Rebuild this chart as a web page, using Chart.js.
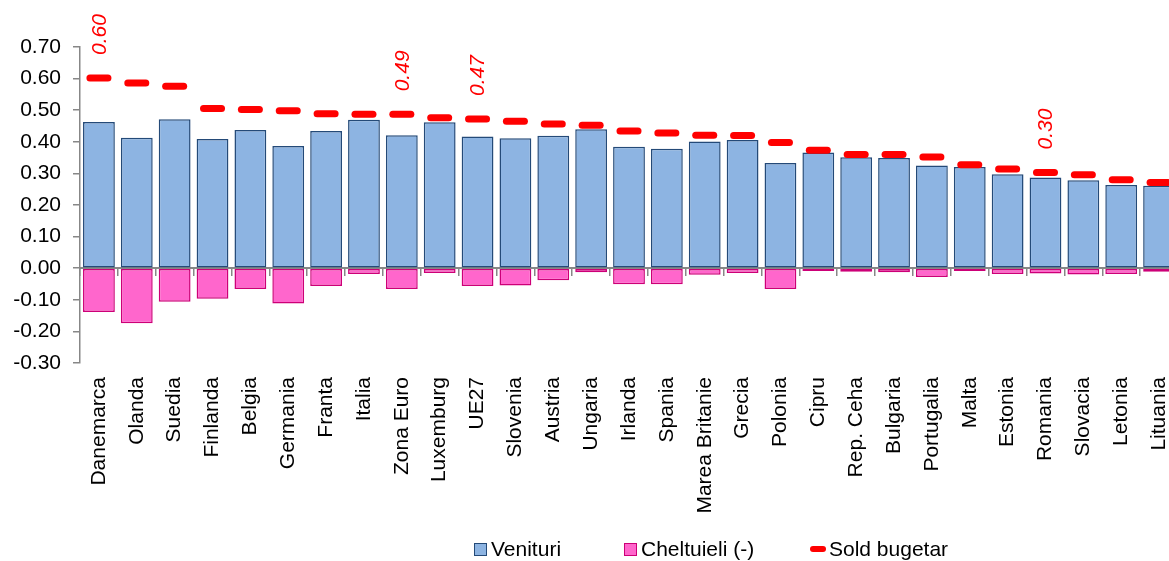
<!DOCTYPE html>
<html>
<head>
<meta charset="utf-8">
<script src="https://cdn.jsdelivr.net/npm/chart.js@4/dist/chart.umd.min.js"></script>
<style>
  html, body { margin: 0; padding: 0; width: 1169px; height: 561px; overflow: hidden; background: #fff; }
  #wrap { position: relative; width: 1169px; height: 561px; overflow: hidden; }
  #c { position: absolute; left: 0; top: 0; }
  #legend { position: absolute; top: 538px; left: 0; width: 1169px; height: 22px;
            font-family: 'Liberation Sans', Arial, sans-serif; font-size: 21px; color: #000; }
  .item { position: absolute; top: 0; display: flex; align-items: center; height: 22px; white-space: nowrap; }
  .box { width: 11px; height: 11px; margin-right: 4px; border: 1px solid; }
  .dash { width: 16px; height: 6px; border-radius: 3px; background: #ff0000; margin-right: 3px; }
</style>
</head>
<body>
<div id="wrap">
  <canvas id="c" width="1194" height="561" style="width:1194px;height:561px"></canvas>
  <div id="legend">
    <div class="item" style="left:474px"><span class="box" style="background:#8DB4E2;border-color:#244A78"></span>Venituri</div>
    <div class="item" style="left:624px"><span class="box" style="background:#FF66CC;border-color:#CC0077"></span>Cheltuieli (-)</div>
    <div class="item" style="left:810px"><span class="dash"></span>Sold bugetar</div>
  </div>
</div>
<script>
// Categories (countries and aggregates), sorted by budget balance contribution
const categories = ['Danemarca', 'Olanda', 'Suedia', 'Finlanda', 'Belgia', 'Germania', 'Franta', 'Italia',
  'Zona Euro', 'Luxemburg', 'UE27', 'Slovenia', 'Austria', 'Ungaria', 'Irlanda', 'Spania',
  'Marea Britanie', 'Grecia', 'Polonia', 'Cipru', 'Rep. Ceha', 'Bulgaria', 'Portugalia', 'Malta',
  'Estonia', 'Romania', 'Slovacia', 'Letonia', 'Lituania'];

// Revenue contribution
const venituri = [0.463, 0.413, 0.471, 0.409, 0.437, 0.387, 0.434, 0.470,
  0.421, 0.462, 0.417, 0.411, 0.419, 0.440, 0.384, 0.378,
  0.401, 0.406, 0.333, 0.366, 0.351, 0.349, 0.325, 0.320,
  0.297, 0.287, 0.278, 0.263, 0.261];

// Expenditure contribution (negative)
const cheltuieli = [-0.139, -0.174, -0.106, -0.097, -0.066, -0.112, -0.056, -0.018,
  -0.066, -0.015, -0.056, -0.055, -0.038, -0.013, -0.051, -0.051,
  -0.021, -0.015, -0.066, -0.009, -0.011, -0.013, -0.028, -0.009,
  -0.018, -0.017, -0.020, -0.018, -0.011];

// Budget balance
const soldBugetar = [0.602, 0.586, 0.576, 0.505, 0.502, 0.498, 0.489, 0.487,
  0.487, 0.476, 0.472, 0.465, 0.456, 0.452, 0.434, 0.428,
  0.421, 0.420, 0.398, 0.373, 0.360, 0.360, 0.352, 0.327,
  0.314, 0.303, 0.296, 0.280, 0.271];

// Categories whose balance value is written above the marker
const labelledCategories = ['Danemarca', 'Zona Euro', 'UE27', 'Romania'];

// Value axis ticks
const yTicks = [-0.30, -0.20, -0.10, 0.00, 0.10, 0.20, 0.30, 0.40, 0.50, 0.60, 0.70];

const FONT = "'Liberation Sans', Arial, sans-serif";
const AXIS_GRAY = '#878787';

// Rounded caps for the balance dashes
const roundCaps = {
  id: 'roundCaps',
  beforeDatasetDraw(chart, args) {
    if (chart.data.datasets[args.index].type === 'line') chart.ctx.lineCap = 'round';
  },
  afterDatasetDraw(chart) { chart.ctx.lineCap = 'butt'; }
};

// Italic red value labels above selected balance markers
const soldLabels = {
  id: 'soldLabels',
  afterDatasetsDraw(chart) {
    const idx = chart.data.datasets.findIndex(d => d.type === 'line');
    const meta = chart.getDatasetMeta(idx);
    const ctx = chart.ctx;
    ctx.save();
    ctx.fillStyle = '#ff0000';
    ctx.font = 'italic 21px ' + FONT;
    ctx.textAlign = 'left';
    ctx.textBaseline = 'middle';
    labelledCategories.forEach(name => {
      const i = categories.indexOf(name);
      const pt = meta.data[i];
      ctx.save();
      ctx.translate(pt.x + 1, pt.y - 23);
      ctx.rotate(-Math.PI / 2);
      ctx.fillText(soldBugetar[i].toFixed(2), 0, 0);
      ctx.restore();
    });
    ctx.restore();
  }
};

new Chart(document.getElementById('c'), {
  data: {
    labels: categories,
    datasets: [
      {
        type: 'line',
        label: 'Sold bugetar',
        data: soldBugetar,
        stack: 'sold',
        order: 0,
        showLine: false,
        pointStyle: 'line',
        pointRadius: 9,
        pointHoverRadius: 9,
        pointBorderWidth: 7,
        pointHoverBorderWidth: 7,
        borderColor: '#ff0000',
        backgroundColor: '#ff0000'
      },
      {
        type: 'bar',
        label: 'Venituri',
        data: venituri,
        stack: 'vc',
        order: 1,
        backgroundColor: '#8DB4E2',
        borderColor: '#244A78',
        borderWidth: 1.5,
        borderSkipped: false,
        barPercentage: 0.84,
        categoryPercentage: 1
      },
      {
        type: 'bar',
        label: 'Cheltuieli (-)',
        data: cheltuieli,
        stack: 'vc',
        order: 1,
        backgroundColor: '#FF66CC',
        borderColor: '#CC0077',
        borderWidth: 1.5,
        borderSkipped: false,
        barPercentage: 0.84,
        categoryPercentage: 1
      }
    ]
  },
  options: {
    responsive: false,
    animation: false,
    devicePixelRatio: 1,
    layout: { padding: { top: 47, left: 0, right: 4, bottom: 0 } },
    plugins: { legend: { display: false }, tooltip: { enabled: false } },
    scales: {
      x: {
        type: 'category',
        stacked: true,
        offset: true,
        position: 'bottom',
        grid: { display: false, drawTicks: false },
        border: { display: false },
        ticks: {
          autoSkip: false,
          maxRotation: 90,
          minRotation: 90,
          padding: 14,
          color: '#000',
          font: { family: FONT, size: 21 }
        },
        afterFit(scale) { scale.height = 198; scale.paddingLeft = 0; scale.paddingRight = 0; }
      },
      xZero: {
        type: 'category',
        position: { y: 0 },
        offset: true,
        grid: { display: true, offset: true, drawOnChartArea: false, drawTicks: true, tickLength: 7, color: AXIS_GRAY, lineWidth: 1.5 },
        border: { display: true, color: AXIS_GRAY, width: 2 },
        ticks: { display: false },
        afterFit(scale) { scale.paddingLeft = 0; scale.paddingRight = 0; }
      },
      y: {
        stacked: true,
        min: -0.3,
        max: 0.7,
        afterBuildTicks(scale) { scale.ticks = yTicks.map(v => ({ value: v })); },
        grid: { drawOnChartArea: false, drawTicks: true, tickLength: 7, color: AXIS_GRAY, lineWidth: 1.5 },
        border: { display: true, color: AXIS_GRAY, width: 1.5 },
        ticks: {
          padding: 12,
          color: '#000',
          font: { family: FONT, size: 21 },
          callback: v => Number(v).toFixed(2)
        },
        afterFit(scale) { scale.width = 80; scale.paddingTop = 0; scale.paddingBottom = 0; }
      }
    }
  },
  plugins: [roundCaps, soldLabels]
});
</script>
</body>
</html>
